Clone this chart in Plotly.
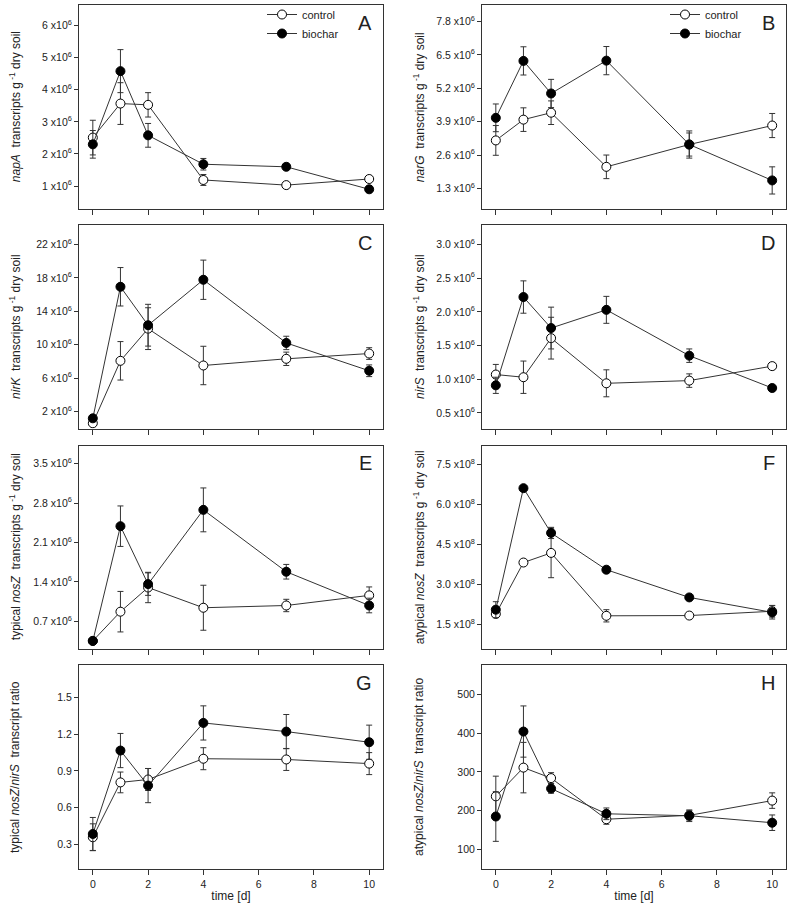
import plotly.graph_objects as go

days = [0, 1, 2, 4, 7, 10]
x_ticks = [0, 2, 4, 6, 8, 10]

# napA (x10^6)
napA_control = [2.51, 3.57, 3.53, 1.19, 1.03, 1.22]
napA_control_err = [0.54, 0.65, 0.38, 0.17, 0.05, 0.08]
napA_biochar = [2.30, 4.58, 2.58, 1.68, 1.60, 0.90]
napA_biochar_err = [0.43, 0.67, 0.37, 0.18, 0.05, 0.08]
napA_ticks = [1, 2, 3, 4, 5, 6]
napA_ticklabels = ["1 x10<sup>6</sup>", "2 x10<sup>6</sup>", "3 x10<sup>6</sup>",
                   "4 x10<sup>6</sup>", "5 x10<sup>6</sup>", "6 x10<sup>6</sup>"]

# narG (x10^6)
narG_control = [3.17, 3.98, 4.25, 2.14, 3.01, 3.75]
narG_control_err = [0.58, 0.46, 0.46, 0.46, 0.45, 0.47]
narG_biochar = [4.05, 6.27, 5.00, 6.28, 3.01, 1.61]
narG_biochar_err = [0.54, 0.55, 0.55, 0.55, 0.53, 0.53]
narG_ticks = [1.3, 2.6, 3.9, 5.2, 6.5, 7.8]
narG_ticklabels = ["1.3 x10<sup>6</sup>", "2.6 x10<sup>6</sup>", "3.9 x10<sup>6</sup>",
                   "5.2 x10<sup>6</sup>", "6.5 x10<sup>6</sup>", "7.8 x10<sup>6</sup>"]

# nirK (x10^6)
nirK_control = [0.61, 8.08, 11.93, 7.52, 8.32, 8.95]
nirK_control_err = [0.2, 2.3, 2.5, 2.3, 0.8, 0.7]
nirK_biochar = [1.20, 16.94, 12.34, 17.78, 10.22, 6.89]
nirK_biochar_err = [0.3, 2.3, 2.5, 2.35, 0.8, 0.7]
nirK_ticks = [2, 6, 10, 14, 18, 22]
nirK_ticklabels = ["2 x10<sup>6</sup>", "6 x10<sup>6</sup>", "10 x10<sup>6</sup>",
                   "14 x10<sup>6</sup>", "18 x10<sup>6</sup>", "22 x10<sup>6</sup>"]

# nirS (x10^6)
nirS_control = [1.07, 1.03, 1.61, 0.94, 0.98, 1.195]
nirS_control_err = [0.15, 0.24, 0.31, 0.20, 0.10, 0.05]
nirS_biochar = [0.91, 2.22, 1.76, 2.03, 1.35, 0.87]
nirS_biochar_err = [0.12, 0.24, 0.31, 0.20, 0.10, 0.03]
nirS_ticks = [0.5, 1.0, 1.5, 2.0, 2.5, 3.0]
nirS_ticklabels = ["0.5 x10<sup>6</sup>", "1.0 x10<sup>6</sup>", "1.5 x10<sup>6</sup>",
                   "2.0 x10<sup>6</sup>", "2.5 x10<sup>6</sup>", "3.0 x10<sup>6</sup>"]

# typical nosZ (x10^6)
tnosZ_control = [0.35, 0.87, 1.30, 0.94, 0.98, 1.16]
tnosZ_control_err = [0.03, 0.36, 0.27, 0.40, 0.11, 0.15]
tnosZ_biochar = [0.35, 2.39, 1.36, 2.68, 1.58, 0.98]
tnosZ_biochar_err = [0.03, 0.36, 0.20, 0.39, 0.13, 0.13]
tnosZ_ticks = [0.7, 1.4, 2.1, 2.8, 3.5]
tnosZ_ticklabels = ["0.7 x10<sup>6</sup>", "1.4 x10<sup>6</sup>", "2.1 x10<sup>6</sup>",
                    "2.8 x10<sup>6</sup>", "3.5 x10<sup>6</sup>"]

# atypical nosZ (x10^8)
anosZ_control = [1.90, 3.83, 4.19, 1.83, 1.84, 2.00]
anosZ_control_err = [0.08, 0.05, 0.93, 0.23, 0.04, 0.22]
anosZ_biochar = [2.06, 6.62, 4.94, 3.56, 2.52, 1.96]
anosZ_biochar_err = [0.30, 0.05, 0.21, 0.06, 0.04, 0.25]
anosZ_ticks = [1.5, 3.0, 4.5, 6.0, 7.5]
anosZ_ticklabels = ["1.5 x10<sup>8</sup>", "3.0 x10<sup>8</sup>", "4.5 x10<sup>8</sup>",
                    "6.0 x10<sup>8</sup>", "7.5 x10<sup>8</sup>"]

# typical nosZ/nirS ratio
tratio_control = [0.357, 0.806, 0.83, 1.00, 0.994, 0.96]
tratio_control_err = [0.11, 0.085, 0.09, 0.09, 0.09, 0.09]
tratio_biochar = [0.384, 1.067, 0.78, 1.293, 1.222, 1.135]
tratio_biochar_err = [0.135, 0.14, 0.14, 0.14, 0.14, 0.14]
tratio_ticks = [0.3, 0.6, 0.9, 1.2, 1.5]
tratio_ticklabels = ["0.3", "0.6", "0.9", "1.2", "1.5"]

# atypical nosZ/nirS ratio
aratio_control = [237, 311, 284, 178, 188, 226]
aratio_control_err = [52, 65, 14, 13, 12, 20]
aratio_biochar = [185, 404, 257, 192, 187, 169]
aratio_biochar_err = [64, 66, 12, 15, 15, 20]
aratio_ticks = [100, 200, 300, 400, 500]
aratio_ticklabels = ["100", "200", "300", "400", "500"]

panels = [
    dict(letter="A", c=napA_control, ce=napA_control_err, b=napA_biochar, be=napA_biochar_err,
         tv=napA_ticks, tt=napA_ticklabels, rng=[0.276, 6.64],
         title="<i>napA</i>  transcripts g<sup> -1</sup> dry soil"),
    dict(letter="B", c=narG_control, ce=narG_control_err, b=narG_biochar, be=narG_biochar_err,
         tv=narG_ticks, tt=narG_ticklabels, rng=[0.484, 8.449],
         title="<i>narG</i>  transcripts g<sup> -1</sup> dry soil"),
    dict(letter="C", c=nirK_control, ce=nirK_control_err, b=nirK_biochar, be=nirK_biochar_err,
         tv=nirK_ticks, tt=nirK_ticklabels, rng=[-0.03, 24.3],
         title="<i>nirK</i>  transcripts g<sup> -1</sup> dry soil"),
    dict(letter="D", c=nirS_control, ce=nirS_control_err, b=nirS_biochar, be=nirS_biochar_err,
         tv=nirS_ticks, tt=nirS_ticklabels, rng=[0.268, 3.285],
         title="<i>nirS</i>  transcripts g<sup> -1</sup> dry soil"),
    dict(letter="E", c=tnosZ_control, ce=tnosZ_control_err, b=tnosZ_biochar, be=tnosZ_biochar_err,
         tv=tnosZ_ticks, tt=tnosZ_ticklabels, rng=[0.209, 3.824],
         title="typical <i>nosZ</i>  transcripts g<sup> -1</sup> dry soil"),
    dict(letter="F", c=anosZ_control, ce=anosZ_control_err, b=anosZ_biochar, be=anosZ_biochar_err,
         tv=anosZ_ticks, tt=anosZ_ticklabels, rng=[0.59, 8.22],
         title="atypical <i>nosZ</i>  transcripts g<sup> -1</sup> dry soil"),
    dict(letter="G", c=tratio_control, ce=tratio_control_err, b=tratio_biochar, be=tratio_biochar_err,
         tv=tratio_ticks, tt=tratio_ticklabels, rng=[0.096, 1.769],
         title="typical <i>nosZ</i>/<i>nirS</i>  transcript ratio"),
    dict(letter="H", c=aratio_control, ce=aratio_control_err, b=aratio_biochar, be=aratio_biochar_err,
         tv=aratio_ticks, tt=aratio_ticklabels, rng=[49.4, 576],
         title="atypical <i>nosZ</i>/<i>nirS</i>  transcript ratio"),
]

W, H = 787, 907
col_px = [(79, 383), (482, 786)]
row_px = [(2, 207), (223, 427), (444, 648), (664, 869)]
ytitle_x = [15, 419]

FONT = "Arial, Liberation Sans, sans-serif"
LINE = "#333333"

fig = go.Figure()
layout = dict(
    width=W, height=H,
    margin=dict(l=0, r=0, t=0, b=0),
    paper_bgcolor="white", plot_bgcolor="white",
    font=dict(family=FONT, size=11, color="#222222"),
    annotations=[],
)

for i, p in enumerate(panels):
    r, c = divmod(i, 2)
    n = i + 1
    xa = "x" if n == 1 else f"x{n}"
    ya = "y" if n == 1 else f"y{n}"
    x0, x1 = col_px[c]
    y0, y1 = row_px[r]
    legend_name = "legend" if i == 0 else ("legend2" if i == 1 else None)

    for name, vals, errs, fill in [("control", p["c"], p["ce"], "white"),
                                   ("biochar", p["b"], p["be"], "black")]:
        tr = dict(
            x=days, y=vals, name=name, mode="lines+markers",
            xaxis=xa, yaxis=ya,
            line=dict(color=LINE, width=1),
            marker=dict(size=9, color=fill, line=dict(color="black", width=1)),
            error_y=dict(type="data", array=errs, visible=True, color=LINE,
                         thickness=1, width=3),
            showlegend=legend_name is not None,
        )
        if legend_name:
            tr["legend"] = legend_name
        fig.add_trace(go.Scatter(**tr))

    bottom = r == 3
    layout["xaxis" if n == 1 else f"xaxis{n}"] = dict(
        domain=[x0 / W, x1 / W], anchor=ya, range=[-0.5, 10.5],
        tickvals=x_ticks, ticks="outside", ticklen=5, tickcolor=LINE, tickwidth=1,
        showticklabels=bottom, tickfont=dict(size=10.5, family=FONT, color="#222"),
        showline=True, mirror=True, linecolor=LINE, linewidth=1,
        showgrid=False, zeroline=False,
        title=dict(text="time [d]", font=dict(size=12, family=FONT, color="#222"), standoff=2) if bottom else None,
    )
    layout["yaxis" if n == 1 else f"yaxis{n}"] = dict(
        domain=[1 - y1 / H, 1 - y0 / H], anchor=xa, range=p["rng"],
        tickvals=p["tv"], ticktext=p["tt"], ticks="outside", ticklen=4,
        tickcolor=LINE, tickwidth=1, tickfont=dict(size=10.5, family=FONT, color="#222"),
        showline=True, mirror=True, linecolor=LINE, linewidth=1,
        showgrid=False, zeroline=False,
    )
    layout["annotations"].append(dict(
        text=p["title"], textangle=-90, xref="paper", yref="paper",
        x=ytitle_x[c] / W, y=1 - (y0 + y1) / 2 / H, xanchor="center", yanchor="middle",
        showarrow=False, font=dict(size=12, family=FONT, color="#222"),
    ))
    layout["annotations"].append(dict(
        text=p["letter"], xref="paper", yref="paper",
        x=(x1 - 9) / W, y=1 - (y0 + 18) / H, xanchor="right", yanchor="middle",
        showarrow=False, font=dict(size=20, family=FONT, color="#222"),
    ))

leg_common = dict(
    xanchor="left", yanchor="top", bgcolor="rgba(0,0,0,0)",
    font=dict(size=11, family=FONT, color="#222"), itemwidth=30,
    tracegroupgap=0, borderwidth=0,
)
layout["legend"] = dict(x=262 / W, y=1 + 3 / H, **leg_common)
layout["legend2"] = dict(x=665 / W, y=1 + 3 / H, **leg_common)

fig.update_layout(**layout)
fig.write_html("out.html", config={"displayModeBar": False},
               post_script="document.body.style.margin='0px';document.body.style.overflow='hidden';")
